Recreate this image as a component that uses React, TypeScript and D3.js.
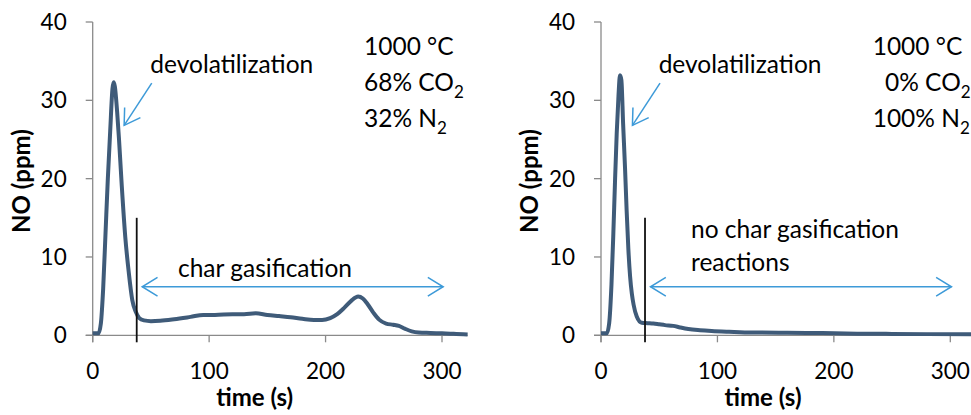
import React from "react";
import * as d3 from "d3";

const timeA = [0, 5, 7, 9, 11, 13, 15, 17, 18, 19, 21, 22.6, 25, 28, 31, 34, 37, 40, 44, 50, 58, 70, 84, 95, 105, 120, 130, 140, 150, 160, 170, 180, 190, 197, 204, 210, 216, 222, 228, 232, 236, 241, 246, 252, 258, 263, 268, 274, 280, 290, 300, 310, 322];
const noA = [0.25, 0.25, 1.5, 6, 13, 20, 26, 31.5, 32.3, 31.8, 28.5, 25, 19, 12.5, 8, 4.5, 3.0, 2.2, 1.9, 1.8, 1.85, 2.05, 2.35, 2.6, 2.6, 2.7, 2.7, 2.8, 2.6, 2.45, 2.3, 2.1, 1.95, 1.95, 2.2, 2.7, 3.5, 4.4, 4.95, 4.7, 4.0, 2.9, 2.0, 1.5, 1.35, 1.2, 0.85, 0.5, 0.35, 0.3, 0.25, 0.2, 0.1];

const timeB = [0, 5, 7, 9, 10.6, 12, 13.5, 15, 16.3, 17.5, 19, 20.6, 22, 23.5, 25, 26.5, 28, 30.7, 35, 40, 45, 50, 55, 62, 68, 75, 85, 95, 110, 130, 160, 190, 220, 250, 280, 322];
const noB = [0.25, 0.25, 1.5, 6.5, 13, 19.5, 25.8, 30.5, 33.2, 32.6, 27, 21.5, 16, 11, 7.5, 5.3, 3.9, 2.4, 1.6, 1.55, 1.5, 1.4, 1.3, 1.2, 1.0, 0.8, 0.65, 0.55, 0.45, 0.35, 0.33, 0.28, 0.2, 0.18, 0.15, 0.12];

const xTicks = [0, 100, 200, 300];
const yTicks = [0, 10, 20, 30, 40];

const FONT = "Lato, 'Open Sans', sans-serif";
const LINE = "#3f5b79";
const ARROW = "#3d9ad8";
const AXIS = "#8a8a8a";
const ANN = 24.5;

type Cond = { text: string; sub?: string; dx: number }[];

function Head({ x1, y1, x2, y2 }: { x1: number; y1: number; x2: number; y2: number }) {
  const a = Math.atan2(y1 - y2, x1 - x2);
  const L = 18;
  const s = 0.55;
  return (
    <path
      d={`M${x2 + L * Math.cos(a + s)},${y2 + L * Math.sin(a + s)} L${x2},${y2} L${x2 + L * Math.cos(a - s)},${y2 + L * Math.sin(a - s)}`}
      fill="none"
      stroke={ARROW}
      strokeWidth={1.5}
    />
  );
}

function Panel({ ox, t, v, cond, gasLines }: { ox: number; t: number[]; v: number[]; cond: Cond; gasLines: { text: string; x: number; y: number }[] }) {
  const x = d3.scaleLinear().domain([0, 300]).range([ox, ox + 349.3]);
  const y = d3.scaleLinear().domain([0, 40]).range([335.3, 22]);
  const data = t.map((tt, i) => [tt, v[i]] as [number, number]);
  const line = d3
    .line<[number, number]>()
    .x((d) => x(d[0]))
    .y((d) => y(d[1]))
    .curve(d3.curveMonotoneX);
  const x0 = x(0);
  const xEnd = x(322);
  const ax1 = x(50.7), ay1 = y(32.2), ax2 = x(27), ay2 = y(26.8);
  const gy = y(6.2);
  const gx1 = x(42.5), gx2 = x(301);
  return (
    <g fontFamily={FONT}>
      <line x1={x0} x2={x0} y1={y(40)} y2={y(0) + 7} stroke={AXIS} strokeWidth={1.3} />
      <line x1={x0 - 7} x2={xEnd} y1={y(0)} y2={y(0)} stroke={AXIS} strokeWidth={1.3} />
      {yTicks.map((tk) => (
        <g key={"y" + tk}>
          <line x1={x0 - 7} x2={x0} y1={y(tk)} y2={y(tk)} stroke={AXIS} strokeWidth={1.3} />
          <text x={x0 - 26} y={y(tk)} dy="0.36em" textAnchor="end" fontSize={22.5} fill="#000">
            {tk}
          </text>
        </g>
      ))}
      {xTicks.map((tk) => (
        <g key={"x" + tk}>
          <line x1={x(tk)} x2={x(tk)} y1={y(0)} y2={y(0) + 7} stroke={AXIS} strokeWidth={1.3} />
          <text x={x(tk)} y={379} textAnchor="middle" fontSize={22.5} fill="#000">
            {tk}
          </text>
        </g>
      ))}
      <text x={ox + 162} y={406} textAnchor="middle" fontSize={24} fontWeight="bold">
        time (s)
      </text>
      <text
        transform={`translate(${ox - 63},181) rotate(-90)`}
        textAnchor="middle"
        fontSize={24}
        fontWeight="bold"
      >
        NO (ppm)
      </text>
      <path d={line(data) || ""} fill="none" stroke={LINE} strokeWidth={4} strokeLinejoin="round" />
      <line x1={x(37.8)} x2={x(37.8)} y1={y(15)} y2={y(0) + 7} stroke="#111" strokeWidth={1.8} />
      <line x1={ax1} y1={ay1} x2={ax2} y2={ay2} stroke={ARROW} strokeWidth={1.5} />
      <Head x1={ax1} y1={ay1} x2={ax2} y2={ay2} />
      <text x={x(49.5)} y={73} fontSize={ANN}>
        devolatilization
      </text>
      <line x1={gx1} y1={gy} x2={gx2} y2={gy} stroke={ARROW} strokeWidth={1.5} />
      <Head x1={gx2} y1={gy} x2={gx1} y2={gy} />
      <Head x1={gx1} y1={gy} x2={gx2} y2={gy} />
      {gasLines.map((g, i) => (
        <text key={i} x={g.x} y={g.y} fontSize={ANN}>
          {g.text}
        </text>
      ))}
      {cond.map((c, i) => (
        <text key={i} x={ox + c.dx} y={55 + i * 36} fontSize={ANN}>
          {c.text}
          {c.sub ? (
            <tspan fontSize={17} dy={7}>
              {c.sub}
            </tspan>
          ) : null}
        </text>
      ))}
    </g>
  );
}

export default function App() {
  return (
    <div style={{ position: "absolute", left: 0, top: 0, width: 971, height: 415, overflow: "hidden", background: "#fff" }}>
      <svg width={971} height={415} style={{ display: "block" }}>
        <rect width={971} height={415} fill="#fff" />
        <Panel
          ox={92.7}
          t={timeA}
          v={noA}
          cond={[
            { text: "1000 °C", dx: 271.3 },
            { text: "68% CO", sub: "2", dx: 271.3 },
            { text: "32% N", sub: "2", dx: 271.3 },
          ]}
          gasLines={[{ text: "char gasification", x: 178, y: 277 }]}
        />
        <Panel
          ox={601}
          t={timeB}
          v={noB}
          cond={[
            { text: "1000 °C", dx: 271.7 },
            { text: "0% CO", sub: "2", dx: 284 },
            { text: "100% N", sub: "2", dx: 271.7 },
          ]}
          gasLines={[
            { text: "no char gasification", x: 691, y: 238 },
            { text: "reactions", x: 691, y: 271 },
          ]}
        />
      </svg>
    </div>
  );
}
